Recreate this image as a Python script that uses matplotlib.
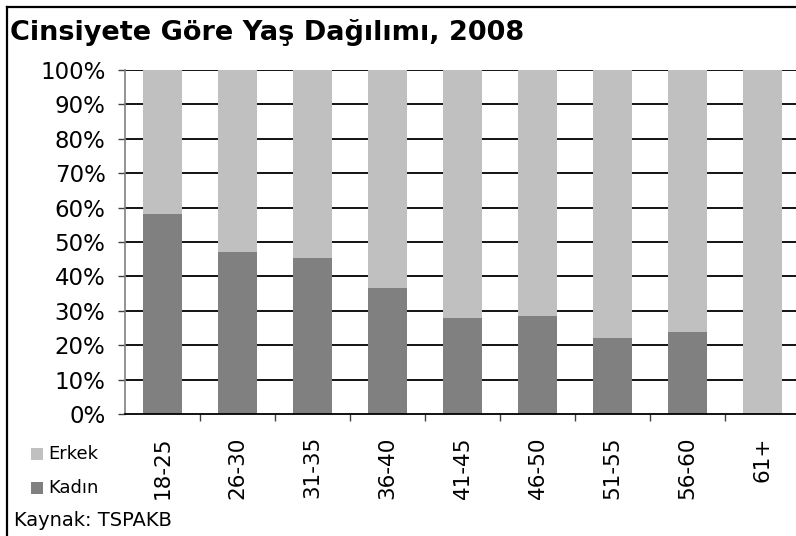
import matplotlib.pyplot as plt
from matplotlib.lines import Line2D
from matplotlib.patches import Rectangle

W, H = 796, 536

age_groups = ['18-25', '26-30', '31-35', '36-40', '41-45', '46-50', '51-55', '56-60', '61+']
kadin = [58.1, 47.1, 45.3, 36.6, 27.9, 28.5, 22.1, 23.8, 0.0]
erkek = [100 - k for k in kadin]

KADIN_COLOR = '#808080'
ERKEK_COLOR = '#c0c0c0'

plt.rcParams['font.family'] = ['DejaVu Sans']

fig = plt.figure(figsize=(W / 100, H / 100), dpi=100)

# axes placed in pixel terms
left, right, top, bottom = 125, 796, 70, 414
ax = fig.add_axes([left / W, 1 - bottom / H, (right - left) / W, (bottom - top) / H])

x = list(range(len(age_groups)))
ax.bar(x, [k / 100 for k in kadin], width=0.51, color=KADIN_COLOR, zorder=3)
ax.bar(x, [e / 100 for e in erkek], width=0.51, bottom=[k / 100 for k in kadin],
       color=ERKEK_COLOR, zorder=3)

ax.set_xlim(-0.5, 8.447)
ax.set_ylim(0, 1)

yt = [i / 10 for i in range(11)]
ax.set_yticks(yt)
ax.set_yticklabels([f'{i * 10}%' for i in range(11)], fontsize=16.5)
for y in yt[1:]:
    ax.axhline(y, color='black', lw=1.3, zorder=1)

ax.set_xticks(x)
ax.set_xticklabels(age_groups, rotation=90, fontsize=15.5, va='top')
ax.set_xticks([i + 0.5 for i in range(len(age_groups) - 1)], minor=True)
ax.tick_params(axis='x', which='major', length=0, pad=16)
ax.tick_params(axis='x', which='minor', length=5, width=1, color='#404040')
ax.tick_params(axis='y', length=5, width=1, color='#404040', pad=9)

for s in ['top', 'right']:
    ax.spines[s].set_visible(False)
ax.spines['left'].set_color('#808080')
ax.spines['left'].set_linewidth(1.2)
ax.spines['bottom'].set_color('black')
ax.spines['bottom'].set_linewidth(1.3)
ax.spines['bottom'].set_zorder(4)

fig.text(10 / W, 1 - 33 / H, 'Cinsiyete Göre Yaş Dağılımı, 2008', fontsize=19.5,
         fontweight='bold', va='center', ha='left')

# legend keys drawn by hand to sit where the original ones are
for label, color, yc in [('Erkek', ERKEK_COLOR, 454), ('Kadın', KADIN_COLOR, 488)]:
    fig.patches.append(Rectangle((31 / W, 1 - (yc + 6) / H), 12 / W, 12 / H,
                                 transform=fig.transFigure, facecolor=color, edgecolor='none'))
    fig.text(48 / W, 1 - yc / H, label, fontsize=13, va='center', ha='left')

fig.text(14 / W, 1 - 521 / H, 'Kaynak: TSPAKB', fontsize=14, va='center', ha='left')

# outer chart border: only the top and left edges fall inside the picture
bx, by = 6.5 / W, 1 - 6.5 / H
fig.add_artist(Line2D([bx, 1.0], [by, by], transform=fig.transFigure, color='black', lw=1.6))
fig.add_artist(Line2D([bx, bx], [0.0, by], transform=fig.transFigure, color='black', lw=1.6))

fig.savefig('out.png', dpi=100)
